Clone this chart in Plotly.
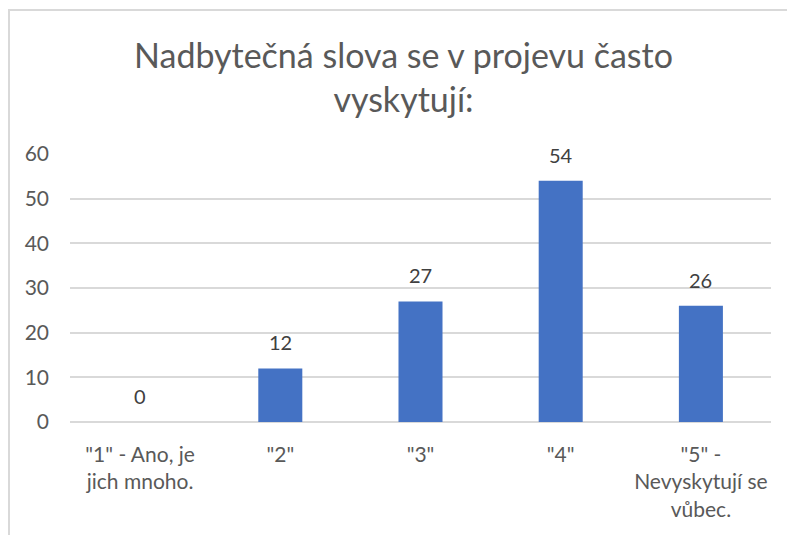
import plotly.graph_objects as go

categories = ['"1" - Ano, je<br>jich mnoho.', '"2"', '"3"', '"4"', '"5" -<br>Nevyskytují se<br>vůbec.']
values = [0, 12, 27, 54, 26]
yticks = [0, 10, 20, 30, 40, 50, 60]
title_text = "Nadbytečná slova se v projevu často<br>vyskytují:"

W, H = 787, 527
ml, mr, mt, mb = 62, 24, 146, 113
pw, ph = W - ml - mr, H - mt - mb

fig = go.Figure()
fig.add_trace(go.Bar(
    x=list(range(len(categories))), y=values,
    marker=dict(color="#4472C4", line=dict(width=0)),
    width=0.314, hoverinfo="skip",
))
for i, v in enumerate(values):
    fig.add_annotation(x=i, y=v, text=str(v), showarrow=False,
                       yanchor="middle", yshift=26,
                       font=dict(family="Lato", size=20, color="#404040"))

# chart border
fig.add_shape(type="rect", xref="paper", yref="paper",
              x0=(1 - ml) / pw, x1=(W + 5 - ml) / pw,
              y0=-(mb + 5) / ph, y1=((H - mb) - 2) / ph,
              line=dict(color="#D9D9D9", width=2), layer="below")

fig.update_layout(
    width=W, height=H,
    margin=dict(l=ml, r=mr, t=mt, b=mb, autoexpand=False),
    paper_bgcolor="white", plot_bgcolor="white",
    showlegend=False,
    title=dict(text=title_text, x=395.5 / W, xanchor="center",
               y=1 - 60 / H, yanchor="middle",
               font=dict(family="Lato", size=34, color="#595959")),
    xaxis=dict(tickmode="array", tickvals=list(range(len(categories))),
               ticktext=categories, range=[-0.5, len(categories) - 0.5],
               showgrid=False, zeroline=False, showline=False, ticks="",
               ticklabelstandoff=18,
               tickfont=dict(family="Lato", size=21, color="#595959"),
               fixedrange=True),
    yaxis=dict(range=[0, 60], tickmode="array", tickvals=yticks,
               showgrid=True, gridcolor="#D9D9D9", gridwidth=1.5,
               zeroline=True, zerolinecolor="#D9D9D9", zerolinewidth=1.5,
               showline=False, ticks="", ticklabelstandoff=20,
               tickfont=dict(family="Lato", size=21, color="#595959"),
               fixedrange=True),
)

fig.write_html("out.html")
